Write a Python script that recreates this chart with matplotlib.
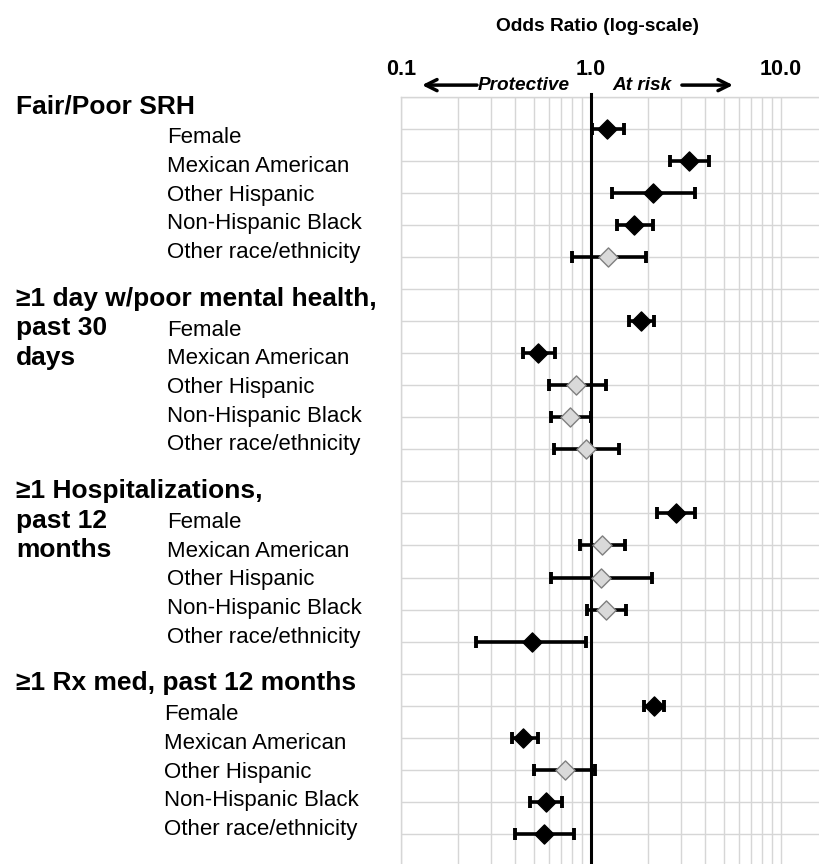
import numpy as np
import matplotlib.pyplot as plt
from matplotlib.ticker import LogLocator, NullFormatter, FixedLocator
from matplotlib.transforms import blended_transform_factory

plt.rcParams['font.family'] = ['Liberation Sans', 'DejaVu Sans']

# --- outcomes (header lines) and subgroups ---
outcomes = [
    ["Fair/Poor SRH"],
    ["≥1 day w/poor mental health,", "past 30", "days"],
    ["≥1 Hospitalizations,", "past 12", "months"],
    ["≥1 Rx med, past 12 months"],
]
subgroups = ["Female", "Mexican American", "Other Hispanic",
             "Non-Hispanic Black", "Other race/ethnicity"]

# odds ratios and 95% CI, one row per outcome, same subgroup order
odds = [
    [1.22, 3.29, 2.14, 1.70, 1.24],
    [1.85, 0.53, 0.84, 0.78, 0.95],
    [2.80, 1.15, 1.13, 1.21, 0.49],
    [2.15, 0.44, 0.73, 0.58, 0.57],
]
ci_low = [
    [1.01, 2.60, 1.30, 1.37, 0.80],
    [1.60, 0.44, 0.60, 0.62, 0.64],
    [2.23, 0.88, 0.62, 0.96, 0.25],
    [1.91, 0.385, 0.50, 0.48, 0.40],
]
ci_high = [
    [1.50, 4.19, 3.53, 2.12, 1.96],
    [2.15, 0.65, 1.20, 1.00, 1.41],
    [3.53, 1.51, 2.10, 1.53, 0.945],
    [2.42, 0.53, 1.05, 0.71, 0.82],
]
# 1 = significant (black), 0 = not significant (grey)
significant = [
    [1, 1, 1, 1, 0],
    [1, 1, 0, 0, 0],
    [1, 0, 0, 0, 1],
    [1, 1, 0, 1, 1],
]

W, H = 820, 864
GRID = '#d6d6d6'
n_rows = len(outcomes) * (len(subgroups) + 1)

fig = plt.figure(figsize=(W / 100, H / 100), dpi=100)
ax = fig.add_axes([400.7 / W, 1 - 866 / H, 1 - 400.7 / W, 769.2 / H])
ax.set_xscale('log')
ax.set_xlim(0.1, 16.1)
ax.set_ylim(n_rows, 0)

# grid: one line per row, log grid across
ax.set_yticks(np.arange(n_rows + 1))
ax.tick_params(axis='y', length=0, labelleft=False)
ax.xaxis.tick_top()
ax.xaxis.set_major_locator(FixedLocator([0.1, 1, 10]))
ax.xaxis.set_minor_locator(LogLocator(base=10, subs=np.arange(2, 10)))
ax.xaxis.set_minor_formatter(NullFormatter())
ax.set_xticklabels(['0.1', '1.0', '10.0'], fontsize=15.5, fontweight='bold')
ax.tick_params(axis='x', which='both', length=0, pad=12)
ax.grid(which='both', color=GRID, lw=1)
ax.set_axisbelow(True)
for s in ax.spines.values():
    s.set_color(GRID)
    s.set_linewidth(1)

# reference line at OR = 1
ax.plot([1, 1], [n_rows, -0.08], color='black', lw=2.2, zorder=5, clip_on=False)

for g in range(len(outcomes)):
    rows = 6 * g + 1 + np.arange(len(subgroups))
    x = np.array(odds[g])
    lo = np.array(ci_low[g])
    hi = np.array(ci_high[g])
    ax.errorbar(x, rows, xerr=[x - lo, hi - x], fmt='none', ecolor='black',
                elinewidth=2.6, capsize=4.2, capthick=2.8, zorder=4)
    sig = np.array(significant[g], dtype=bool)
    ax.scatter(x[sig], rows[sig], marker='D', s=95, color='black', zorder=6)
    ax.scatter(x[~sig], rows[~sig], marker='D', s=95, facecolor='#d9d9d9',
               edgecolor='#808080', linewidth=1, zorder=6)

# row labels on the left
lab = blended_transform_factory(fig.transFigure, ax.transData)
for g, lines in enumerate(outcomes):
    for j, line in enumerate(lines):
        ax.text(16 / W, 6 * g + 0.52 + j * 0.92, line, transform=lab,
                fontsize=19, fontweight='bold', va='baseline', ha='left', clip_on=False)
    sub_x = 164 if g == 3 else 167
    for i, name in enumerate(subgroups):
        ax.text(sub_x / W, 6 * g + 1.45 + i * 0.895, name, transform=lab,
                fontsize=16, va='baseline', ha='left', clip_on=False)

# direction arrows above the plot
top = blended_transform_factory(ax.transData, ax.transAxes)
arrow = dict(arrowstyle='->', lw=2.5, color='black', mutation_scale=20,
             shrinkA=0, shrinkB=0)
ax.annotate('', xy=(0.1295, 1.0152), xytext=(0.252, 1.0152),
            xycoords=top, textcoords=top, arrowprops=arrow)
ax.annotate('', xy=(5.61, 1.0152), xytext=(3.02, 1.0152),
            xycoords=top, textcoords=top, arrowprops=arrow)
ax.text(0.446, 1.0152, 'Protective', transform=top, fontsize=13.7,
        fontweight='bold', fontstyle='italic', ha='center', va='center')
ax.text(1.86, 1.0152, 'At risk', transform=top, fontsize=13.7,
        fontweight='bold', fontstyle='italic', ha='center', va='center')

fig.text(598 / W, 1 - 31 / H, 'Odds Ratio (log-scale)', fontsize=13.8,
         fontweight='bold', ha='center', va='baseline')

fig.savefig('out.png', dpi=100)
